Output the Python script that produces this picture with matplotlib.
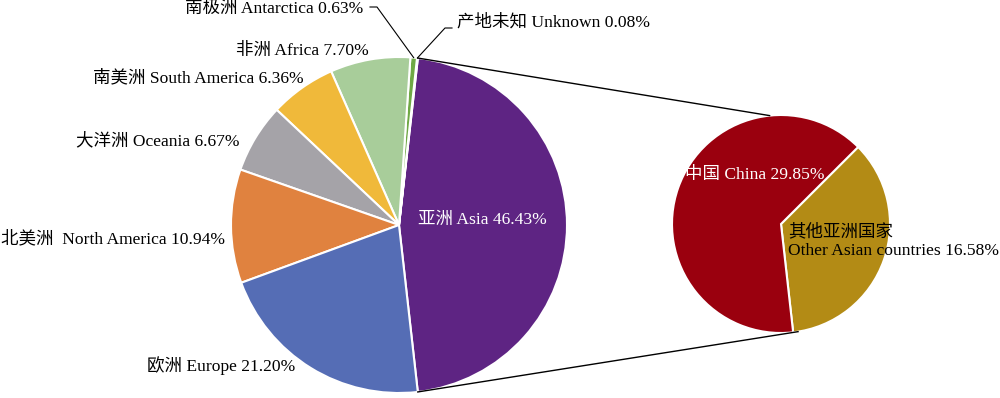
import numpy as np
import matplotlib
matplotlib.use("Agg")
import matplotlib.pyplot as plt

# main pie: share of each origin (%), counterclockwise from Asia
regions = ["亚洲 Asia", "产地未知 Unknown", "南极洲 Antarctica", "非洲 Africa",
           "南美洲 South America", "大洋洲 Oceania", "北美洲  North America", "欧洲 Europe"]
shares = [46.43, 0.08, 0.63, 7.70, 6.36, 6.67, 10.94, 21.20]
colors = ["#5E2483", "#9DB7D8", "#6FA845", "#A8CD9A", "#F0B93A", "#A5A3A8", "#E0823F", "#556DB5"]

# secondary pie: split of Asia
asia_parts = ["其他亚洲国家\nOther Asian countries", "中国 China"]
asia_shares = [16.58, 29.85]
asia_colors = ["#B38B15", "#9A000E"]

FONT = ["Liberation Serif", "Noto Sans CJK SC"]
FS = 12.6

fig = plt.figure(figsize=(10, 3.98), dpi=100)
ax = fig.add_axes([0, 0, 1, 1])

H = 398
c1, r1 = (399, H - 225), 168
c2, r2 = (781, H - 224), 109

start1 = -shares[0] * 3.6 / 2
ax.pie(shares, colors=colors, startangle=start1, center=c1, radius=r1,
       wedgeprops=dict(edgecolor="white", linewidth=1.5))
start2 = -83.6
ax.pie(asia_shares, colors=asia_colors, startangle=start2, center=c2, radius=r2,
       wedgeprops=dict(edgecolor="white", linewidth=1.5))


def edge_pt(center, r, ang):
    a = np.deg2rad(ang)
    return center[0] + r * np.cos(a), center[1] + r * np.sin(a)


# connector lines between Asia slice and the secondary pie
for a1, a2 in [(-start1, 96), (start1, -81)]:
    p = edge_pt(c1, r1, a1)
    q = edge_pt(c2, r2, a2)
    ax.plot([p[0], q[0]], [p[1], q[1]], color="black", lw=1)

# label layout: (x, y from top, ha, colour)
layout = [
    (418, 220, "left", "white"),
    (457, 22, "left", "black"),
    (363, 9, "right", "black"),
    (369, 51, "right", "black"),
    (304, 78, "right", "black"),
    (240, 141, "right", "black"),
    (225, 239, "right", "black"),
    (147, 366, "left", "black"),
]
for name, val, (x, y, ha, col) in zip(regions, shares, layout):
    ax.text(x, H - y, f"{name} {val:.2f}%", ha=ha, va="center", color=col,
            fontsize=FS, family=FONT)

# leader lines for the two tiny slices
cum = np.cumsum([0] + shares)
for i, pts in [(1, [(452, 28), (445, 28)]), (2, [(370, 7), (377, 7)])]:
    mid = start1 + (cum[i] + shares[i] / 2) * 3.6
    tip = edge_pt(c1, r1, mid)
    xs = [p[0] for p in pts] + [tip[0]]
    ys = [H - p[1] for p in pts] + [tip[1]]
    ax.plot(xs, ys, color="black", lw=0.8)

sub_layout = [(788, 241, "left", "black"), (685, 175, "left", "white")]
for name, val, (x, y, ha, col) in zip(asia_parts, asia_shares, sub_layout):
    ax.text(x, H - y, f"{name} {val:.2f}%", ha=ha, va="center", color=col,
            fontsize=FS, family=FONT, linespacing=1.2)

ax.set_xlim(0, 1000)
ax.set_ylim(0, H)
ax.set_aspect("equal")
ax.axis("off")
fig.savefig("out.png", dpi=100)
